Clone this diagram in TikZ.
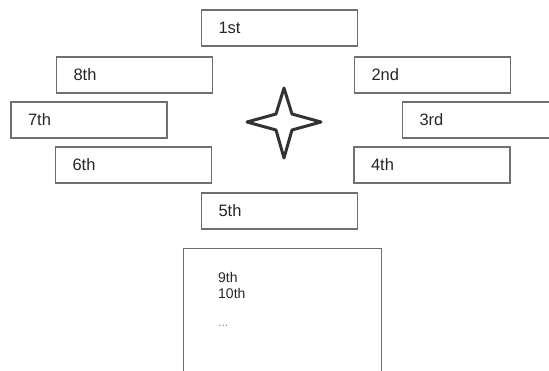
\documentclass[tikz,border=0pt]{standalone}
\usepackage{fontspec}
\setmainfont{Liberation Sans}
\usepackage{tikz}

\definecolor{rimgray}{HTML}{6F6F6F}
\definecolor{stargray}{HTML}{333333}

\tikzset{
  slot/.style={draw=rimgray, line width=1.4pt, rectangle, minimum height=36pt,
    text width=122pt, inner xsep=17pt, inner ysep=0pt, align=left,
    font=\fontsize{16.5}{18}\selectfont, text=black!85},
  restbox/.style={draw=rimgray, line width=1.4pt, rectangle, minimum width=198pt,
    minimum height=140pt, inner sep=0pt, anchor=north west},
  resttext/.style={anchor=north west, inner sep=0pt, align=left,
    font=\fontsize{14}{16}\selectfont, text=black!85}
}

\begin{document}
\begin{tikzpicture}[x=1pt, y=-1pt]
  \useasboundingbox (0,0) rectangle (549,371);
  \clip (0,0) rectangle (549,371);

  \node[slot] (p1) at (279.5,28) {1st};
  \node[slot] (p2) at (432.5,75) {2nd};
  \node[slot] (p3) at (480.5,120) {3rd};
  \node[slot] (p4) at (432,165) {4th};
  \node[slot] (p5) at (279.5,211) {5th};
  \node[slot] (p6) at (133.5,165) {6th};
  \node[slot] (p7) at (89,120) {7th};
  \node[slot] (p8) at (134.5,75) {8th};

  % the rest of the list
  \node[restbox] (rest) at (183,248) {};
  \node[resttext] (items) at (218,272) {9th\\10th\\[12pt]\textcolor{black!50}{\fontsize{12}{12}\selectfont...}};

  % star in the middle
  \draw[stargray, line width=3pt, line join=round]
    (284,88) -- (292,114) -- (321,122) -- (292,130) -- (284,158)
    -- (276,130) -- (247,122) -- (276,114) -- cycle;
\end{tikzpicture}
\end{document}
